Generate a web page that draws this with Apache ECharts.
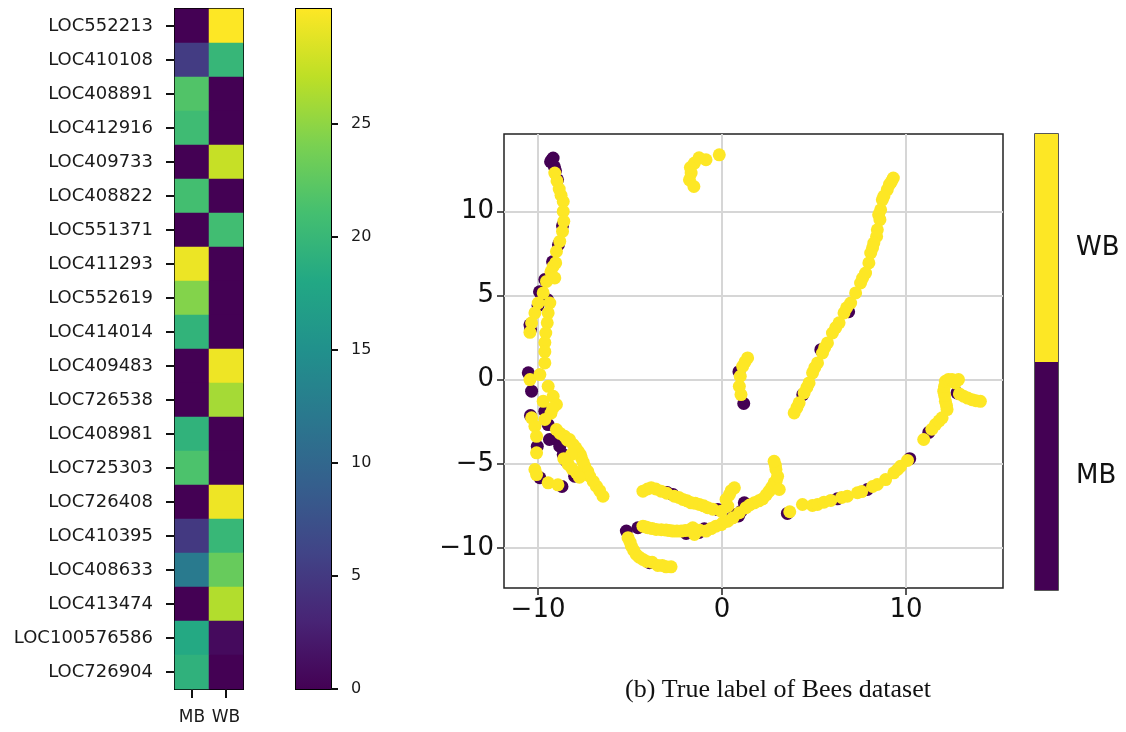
<!DOCTYPE html>
<html><head><meta charset="utf-8">
<script src="https://cdn.jsdelivr.net/npm/echarts@6/dist/echarts.min.js"></script>
<style>html,body{margin:0;padding:0;background:#fff;}#c{width:1126px;height:732px;}</style>
</head><body><div id="c"></div>
<script>
// ---------- data ----------
const genes = ['LOC552213','LOC410108','LOC408891','LOC412916','LOC409733','LOC408822','LOC551371','LOC411293','LOC552619','LOC414014','LOC409483','LOC726538','LOC408981','LOC725303','LOC726408','LOC410395','LOC408633','LOC413474','LOC100576586','LOC726904'];
const conditions = ['MB','WB'];
const mbValues = [0, 5.3, 21.8, 20.6, 0, 21.0, 0, 29.3, 24.5, 19.5, 0, 0, 19.4, 21.5, 0, 5.0, 12.3, 0, 18.2, 19.3];
const wbValues = [30.1, 19.9, 0, 0, 27.5, 0, 20.8, 0, 0, 0, 29.4, 26.0, 0, 0, 29.4, 20.0, 23.0, 26.6, 0.8, 0];
const heatMax = 30.1;
const colorbarTicks = [0, 5, 10, 15, 20, 25];

const scatterClasses = ['MB', 'WB'];
const scatterXTicks = [-10, 0, 10];
const scatterYTicks = [-10, -5, 0, 5, 10];
const mbPoints = [
 [-9.18,13.16],[-9.32,12.94],[-9.25,13.05],[-9.11,12.64],[-9.05,12.4],[-8.94,11.87],[-8.67,9.14],[-8.89,8.01],[-9.21,7.0],
 [-9.63,5.94],[-9.92,5.22],[-9.49,4.75],[-10.0,4.4],[-10.44,3.26],[-10.41,2.97],[-10.53,0.40],[-10.35,-0.69],[-9.63,-1.88],
 [-9.45,-2.67],[-10.41,-2.14],[-10.04,-3.96],[-9.90,-5.83],[-8.70,-6.35],[-9.0,-3.56],[-8.82,-3.96],[-8.63,-4.45],
 [-8.46,-4.85],[-8.01,-5.74],[-9.38,-3.56],
 [1.18,-1.42],[0.92,0.47],
 [5.37,1.78],[4.39,-0.89],[6.88,4.03],
 [3.55,-7.95],[6.27,-7.08],[7.90,-6.53],[10.2,-4.7],[11.24,-3.13],[12.77,-0.79],
 [-2.67,-6.83],[-0.23,-7.72],[-2.98,-6.71],[-5.20,-9.0],[-4.57,-8.80],[-0.96,-8.86],[0.76,-8.01],[1.21,-7.32],
 [1.03,-7.83],[-1.25,-9.08],[-1.95,-9.14],[-3.94,-10.88],[0.55,-8.2],[0.9,-8.1]
];
const wbPoints = [
 [-9.09,12.27],[-8.97,11.8],[-8.85,11.32],[-8.75,10.95],[-8.63,10.58],[-8.63,9.99],[-8.60,9.40],[-8.67,8.80],[-8.82,8.21],[-9.0,7.61],
 [-9.04,6.93],[-9.18,6.72],[-9.3,6.4],[-9.09,6.04],[-9.54,5.83],[-9.72,5.15],[-9.99,4.55],[-10.17,3.96],[-10.35,3.37],
 [-10.44,2.81],[-9.36,4.55],[-9.45,3.96],[-9.50,3.37],[-9.58,2.77],[-9.63,2.20],[-9.63,1.66],[-9.63,0.99],[-10.44,0],
 [-9.90,0.30],[-9.45,-0.40],[-9.18,-0.99],[-9.0,-1.48],[-9.72,-1.29],[-9.3,-2.0],[-9.2,-1.7],[-9.63,-2.37],[-10.35,-2.27],[-10.17,-2.77],
 [-10.08,-3.37],[-10.08,-4.35],[-10.17,-5.34],[-10.08,-5.64],[-9.45,-6.13],[-8.92,-6.25],
 [-9.0,-2.97],[-8.8,-3.2],[-8.55,-3.37],[-8.4,-3.6],[-8.09,-3.86],[-7.95,-4.05],[-7.82,-4.26],[-7.7,-4.45],[-7.64,-4.65],
 [-7.55,-4.9],[-7.46,-5.15],[-7.3,-5.45],[-7.19,-5.74],[-7.0,-6.05],[-6.83,-6.33],[-6.65,-6.6],
 [-6.47,-6.93],[-8.36,-5.04],[-7.91,-5.54],[-8.29,-3.56],[-8.18,-4.45],[-8.6,-4.7],[-8.15,-5.3],[-7.75,-5.8],
 [-0.15,13.35],[-0.87,13.06],[-1.25,13.18],[-1.50,12.86],[-1.72,12.6],[-1.68,12.27],[-1.77,11.87],[-1.53,11.47],
 [1.39,1.29],[1.25,1.05],[1.12,0.79],[0.99,0.20],[0.94,-0.40],[1.03,-0.89],
 [9.31,11.97],[9.2,11.75],[9.1,11.6],[8.98,11.28],[8.8,10.9],[8.71,10.68],[8.62,10.09],[8.51,9.79],[8.58,9.50],[8.44,8.90],[8.4,8.5],
 [8.25,8.11],[8.18,7.83],[8.08,7.52],[7.98,6.93],[7.80,6.33],[7.64,6.03],[7.53,5.74],[7.26,5.15],[6.99,4.55],[6.77,4.27],
 [6.63,3.96],[6.36,3.37],[6.18,3.09],[6.00,2.77],[5.73,2.18],[5.58,1.90],[5.46,1.58],[5.19,0.99],[5.04,0.71],[4.92,0.40],
 [4.73,-0.20],[4.61,-0.47],[4.46,-0.79],[4.19,-1.38],[4.07,-1.66],[3.92,-1.98],
 [3.68,-7.85],[4.37,-7.42],[4.91,-7.48],[5.19,-7.42],[5.54,-7.28],[5.91,-7.18],[6.50,-7.00],[6.81,-6.93],[7.36,-6.72],
 [7.59,-6.65],[8.18,-6.35],[8.44,-6.23],[8.89,-5.94],[9.34,-5.54],[9.54,-5.34],[9.70,-5.15],[10.08,-4.8],
 [10.96,-3.56],[11.4,-2.95],[11.60,-2.67],[11.8,-2.45],[11.96,-2.27],[12.23,-1.78],[12.2,-1.55],[12.14,-1.29],[12.1,-0.95],
 [12.05,-0.69],[12.09,-0.42],[12.14,-0.10],[12.3,0.0],[12.50,0],[12.85,0],[12.68,-0.20],[12.9,-0.85],[13.13,-0.99],
 [13.35,-1.1],[13.59,-1.19],[13.8,-1.25],[14.04,-1.29],
 [-4.30,-6.63],[-4.05,-6.5],[-3.85,-6.43],[-3.6,-6.5],[-3.31,-6.63],[-3.0,-6.75],[-2.59,-6.93],[-2.35,-7.0],[-2.13,-7.12],
 [-1.9,-7.2],[-1.68,-7.32],[-1.45,-7.35],[-1.23,-7.42],[-1.0,-7.5],[-0.78,-7.61],[-0.5,-7.7],[-0.05,-7.82],[0.31,-7.52],
 [0.67,-6.43],[0.5,-6.6],[0.40,-6.83],[0.22,-7.12],
 [-4.30,-8.71],[-4.15,-8.75],[-4.03,-8.80],[-3.8,-8.85],[-3.58,-8.90],[-3.3,-8.92],[-3.04,-8.94],[-2.85,-8.97],[-2.67,-9.0],
 [-2.45,-9.0],[-2.22,-9.0],[-2.0,-8.97],[-1.77,-8.94],[-1.50,-9.20],[-1.59,-8.80],[-1.2,-8.95],[-0.87,-9.0],[-0.6,-8.85],
 [-0.33,-8.71],[-0.05,-8.61],[0.05,-8.5],[0.31,-8.41],[0.6,-8.2],[0.94,-7.91],[1.30,-7.61],[1.5,-7.45],[1.75,-7.32],
 [2.0,-7.2],[2.21,-7.08],[2.4,-6.85],[2.56,-6.63],[2.7,-6.4],[2.83,-6.13],[2.95,-6.0],[3.02,-5.74],[2.93,-5.34],
 [2.9,-5.1],[2.83,-4.85],[3.11,-6.53],
 [-5.11,-9.39],[-5.0,-9.65],[-4.93,-9.89],[-4.8,-10.15],[-4.66,-10.39],[-4.5,-10.55],[-4.30,-10.68],[-4.1,-10.8],
 [-3.8,-10.85],[-3.49,-11.04],[-3.25,-11.04],[-3.04,-11.12],[-2.77,-11.12]
];
const caption = '(b) True label of Bees dataset';

// ---------- styling ----------
const viridis = ['#440154','#482475','#414487','#355f8d','#2a788e','#21918c','#22a884','#44bf70','#7ad151','#bddf26','#fde725'];
const MB_COLOR = '#440154', WB_COLOR = '#fde725';
const minus = v => String(v).replace('-', '\u2212');

const heatData = [];
genes.forEach((g, i) => {
  heatData.push([0, i, mbValues[i]]);
  heatData.push([1, i, wbValues[i]]);
});

const tickStyle = { color: '#111', width: 2 };
const chart = echarts.init(document.getElementById('c'), null, { renderer: 'canvas' });
chart.setOption({
  animation: false,
  backgroundColor: '#fff',
  textStyle: { fontFamily: 'DejaVu Sans' },
  title: {
    text: caption, left: 773, top: 672, textAlign: 'center',
    textStyle: { fontFamily: 'Liberation Serif', fontSize: 26, fontWeight: 'normal', color: '#111' }
  },
  grid: [
    { left: 175, top: 9, width: 68, height: 680, show: true, borderColor: '#000', borderWidth: 2, backgroundColor: 'transparent' },
    { left: 296, top: 9, width: 35, height: 680, show: true, borderColor: '#000', borderWidth: 2, backgroundColor: 'transparent' },
    { left: 504, top: 134, width: 499, height: 454, show: true, borderColor: '#222', borderWidth: 1.5, backgroundColor: 'transparent' },
    { left: 1035, top: 134, width: 23, height: 456, show: true, borderColor: '#222', borderWidth: 1.5, backgroundColor: 'transparent' }
  ],
  xAxis: [
    { type: 'category', gridIndex: 0, data: conditions, position: 'bottom',
      axisLine: { show: false }, axisTick: { show: true, interval: 0, alignWithLabel: true, length: 9, lineStyle: tickStyle },
      axisLabel: { interval: 0, fontSize: 17, color: '#1a1a1a', margin: 20 }, splitLine: { show: false } },
    { type: 'category', gridIndex: 1, data: [''], show: false },
    { type: 'value', gridIndex: 2, min: -11.85, max: 15.27, position: 'bottom',
      axisLine: { show: false, onZero: false },
      axisTick: { show: true, length: 7, customValues: scatterXTicks, lineStyle: { color: '#222', width: 1.5 } },
      axisLabel: { fontSize: 26, color: '#111', margin: 9, customValues: scatterXTicks, formatter: minus },
      splitLine: { show: true, lineStyle: { color: '#d6d6d6', width: 2 } } },
    { type: 'value', gridIndex: 3, min: 0, max: 1, show: false }
  ],
  yAxis: [
    { type: 'category', gridIndex: 0, data: genes, inverse: true,
      axisLine: { show: false }, axisTick: { show: true, interval: 0, alignWithLabel: true, length: 9, lineStyle: tickStyle },
      axisLabel: { interval: 0, fontSize: 18, color: '#1a1a1a', margin: 22 }, splitLine: { show: false } },
    { type: 'value', gridIndex: 1, min: 0, max: heatMax, position: 'right',
      axisLine: { show: false, onZero: false },
      axisTick: { show: true, length: 7, customValues: colorbarTicks, lineStyle: tickStyle },
      axisLabel: { fontSize: 16, color: '#1a1a1a', margin: 20, customValues: colorbarTicks },
      splitLine: { show: false } },
    { type: 'value', gridIndex: 2, min: -12.38, max: 14.59,
      axisLine: { show: false, onZero: false },
      axisTick: { show: true, length: 7, customValues: scatterYTicks, lineStyle: { color: '#222', width: 1.5 } },
      axisLabel: { fontSize: 26, color: '#111', margin: 10, customValues: scatterYTicks, formatter: minus },
      splitLine: { show: true, lineStyle: { color: '#d6d6d6', width: 2 } } },
    { type: 'category', gridIndex: 3, data: scatterClasses, position: 'right',
      axisLine: { show: false }, axisTick: { show: true, alignWithLabel: true, length: 8, lineStyle: { color: '#222', width: 1.5 } },
      axisLabel: { fontSize: 26, color: '#111', margin: 18 } }
  ],
  visualMap: {
    type: 'continuous', min: 0, max: heatMax, seriesIndex: 0, show: false,
    inRange: { color: viridis }
  },
  series: [
    { type: 'heatmap', xAxisIndex: 0, yAxisIndex: 0, data: heatData, itemStyle: { borderWidth: 0 } },
    { type: 'bar', xAxisIndex: 1, yAxisIndex: 1, data: [heatMax], barWidth: '100%', silent: true,
      itemStyle: { color: new echarts.graphic.LinearGradient(0, 0, 0, 1,
        viridis.slice().reverse().map((c, i, a) => ({ offset: i / (a.length - 1), color: c }))) } },
    { type: 'scatter', name: 'MB', xAxisIndex: 2, yAxisIndex: 2, data: mbPoints, symbolSize: 13,
      itemStyle: { color: MB_COLOR, opacity: 1 }, z: 3 },
    { type: 'scatter', name: 'WB', xAxisIndex: 2, yAxisIndex: 2, data: wbPoints, symbolSize: 13,
      itemStyle: { color: WB_COLOR, opacity: 1 }, z: 4 },
    { type: 'bar', xAxisIndex: 3, yAxisIndex: 3, barWidth: '100%', silent: true,
      data: [ { value: 1, itemStyle: { color: MB_COLOR } }, { value: 1, itemStyle: { color: WB_COLOR } } ] }
  ]
});
</script></body></html>
